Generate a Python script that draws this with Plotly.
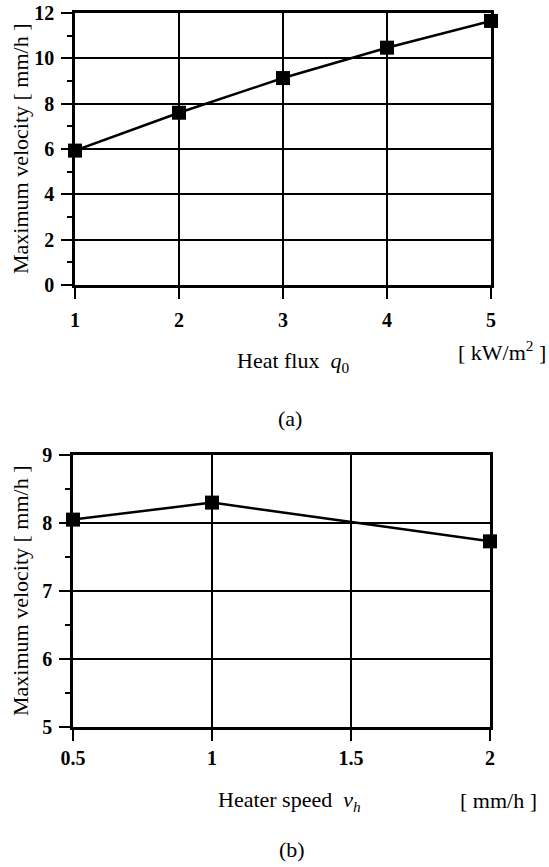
import plotly.graph_objects as go

# Panel (a)
heat_flux = [1, 2, 3, 4, 5]
vel_a = [5.93, 7.6, 9.13, 10.47, 11.65]
# Panel (b)
heater_speed = [0.5, 1, 2]
vel_b = [8.05, 8.30, 7.73]

W, H = 549, 867
FONT = "Liberation Serif"

fig = go.Figure()
line_style = dict(color="black", width=2.5)
marker_style = dict(symbol="square", size=14, color="black")

fig.add_trace(go.Scatter(x=heat_flux, y=vel_a, mode="lines+markers",
                         line=line_style, marker=marker_style,
                         xaxis="x", yaxis="y", showlegend=False, cliponaxis=False))
fig.add_trace(go.Scatter(x=heater_speed, y=vel_b, mode="lines+markers",
                         line=line_style, marker=marker_style,
                         xaxis="x2", yaxis="y2", showlegend=False, cliponaxis=False))

def px_x(p):
    return p / W

def px_y(p):
    return 1 - p / H

tickfont = dict(family=FONT, size=20, color="black", weight="bold")
common = dict(showline=True, linecolor="black", linewidth=2.5, mirror=True,
              showgrid=True, gridcolor="black", gridwidth=2, zeroline=False,
              ticks="outside", tickcolor="black", tickwidth=2, ticklen=11,
              tickfont=tickfont, automargin=False)
minor_y = dict(ticks="outside", ticklen=5, tickcolor="black", tickwidth=2,
               showgrid=False)

fig.update_layout(
    width=W, height=H,
    margin=dict(l=0, r=0, t=0, b=0, autoexpand=False),
    paper_bgcolor="white", plot_bgcolor="white",
    font=dict(family=FONT, color="black"),
    hovermode=False,
    xaxis=dict(domain=[px_x(75), px_x(491)], range=[1, 5], tickvals=heat_flux,
               anchor="y", ticklabelstandoff=4, **common),
    yaxis=dict(domain=[px_y(285), px_y(13)], range=[0, 12], dtick=2,
               anchor="x", ticklabelstandoff=3,
               minor=dict(dtick=1, **minor_y), **common),
    xaxis2=dict(domain=[px_x(73), px_x(490)], range=[0.5, 2],
                tickvals=[0.5, 1, 1.5, 2], ticktext=["0.5", "1", "1.5", "2"],
                anchor="y2", ticklabelstandoff=0, **common),
    yaxis2=dict(domain=[px_y(727), px_y(455)], range=[5, 9], dtick=1,
                anchor="x2", ticklabelstandoff=3,
                minor=dict(dtick=0.5, **minor_y), **common),
)

tf = dict(family=FONT, size=22, color="black")
ann = [
    dict(text="Maximum velocity [ mm/h ]", x=px_x(20), y=px_y(149), textangle=-90),
    dict(text="Heat flux  <i>q</i><sub>0</sub>", x=px_x(293), y=px_y(362)),
    dict(text="[ kW/m<sup>2</sup> ]", x=px_x(502), y=px_y(351)),
    dict(text="(a)", x=px_x(290), y=px_y(418)),
    dict(text="Maximum velocity [ mm/h ]", x=px_x(20), y=px_y(591), textangle=-90),
    dict(text="Heater speed  <i>v<sub>h</sub></i>", x=px_x(289), y=px_y(801)),
    dict(text="[ mm/h ]", x=px_x(498), y=px_y(800)),
    dict(text="(b)", x=px_x(292), y=px_y(849)),
]
for a in ann:
    fig.add_annotation(xref="paper", yref="paper", showarrow=False,
                       xanchor="center", yanchor="middle", font=tf, **a)

fig.write_html("out.html", config={"displayModeBar": False},
               post_script="document.body.style.margin='0px';")
